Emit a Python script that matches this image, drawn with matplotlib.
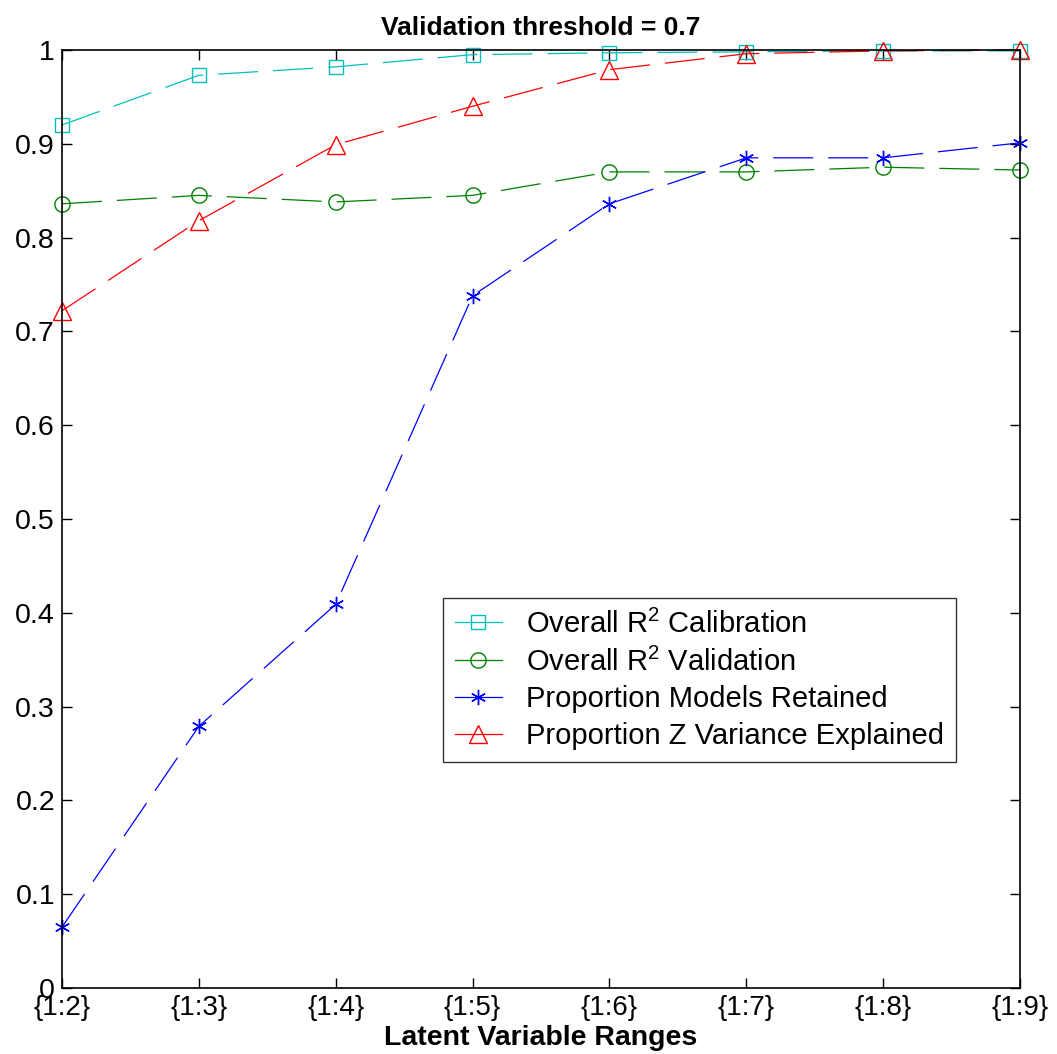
import matplotlib.pyplot as plt
from matplotlib.lines import Line2D

categories = ['{1:2}', '{1:3}', '{1:4}', '{1:5}', '{1:6}', '{1:7}', '{1:8}', '{1:9}']
r2_calibration = [0.920, 0.973, 0.982, 0.995, 0.997, 0.998, 0.999, 0.999]
r2_validation = [0.836, 0.845, 0.838, 0.845, 0.870, 0.870, 0.875, 0.872]
models_retained = [0.065, 0.279, 0.409, 0.738, 0.836, 0.885, 0.885, 0.901]
z_variance = [0.722, 0.818, 0.899, 0.940, 0.979, 0.996, 0.999, 1.000]

labels = ['Overall R$^2$ Calibration', 'Overall R$^2$ Validation',
          'Proportion Models Retained', 'Proportion Z Variance Explained']
colors = ['#00BFBF', '#008000', '#0000FF', '#FF0000']
markers = ['s', 'o', (6, 2, 0), '^']
msizes = [10, 11, 11, 13]

plt.rcParams['font.family'] = ['Liberation Sans', 'DejaVu Sans']
plt.rcParams['mathtext.fontset'] = 'custom'
plt.rcParams['mathtext.rm'] = 'Liberation Sans'

fig = plt.figure(figsize=(10.57, 10.54), dpi=100)
ax = fig.add_axes([0.0587, 0.0626, 0.9063, 0.8900])

x = list(range(len(categories)))
series = [r2_calibration, r2_validation, models_retained, z_variance]
handles = []
for y, c, m, ms, lab in zip(series, colors, markers, msizes, labels):
    ax.plot(x, y, color=c, marker=m, markersize=ms, markerfacecolor='none',
            markeredgecolor=c, markeredgewidth=1, linewidth=0.9,
            dashes=(32, 12), clip_on=False)
    handles.append(Line2D([], [], color=c, marker=m, markersize=ms,
                          markerfacecolor='none', markeredgewidth=1,
                          linewidth=0.9, label=lab))

ax.set_xlim(0, len(categories) - 1)
ax.set_ylim(0, 1)
ax.set_xticks(x)
ax.set_xticklabels(categories, fontsize=20)
ax.set_yticks([i / 10 for i in range(11)])
ax.set_yticklabels(['0', '0.1', '0.2', '0.3', '0.4', '0.5', '0.6', '0.7', '0.8', '0.9', '1'],
                   fontsize=20.5)
ax.tick_params(direction='in', top=True, right=True, length=7, width=1)
ax.tick_params(axis='x', pad=5)
ax.tick_params(axis='y', pad=5)
for s in ax.spines.values():
    s.set_linewidth(1.2)

ax.set_title('Validation threshold = 0.7', fontsize=19, fontweight='bold', pad=11)
ax.set_xlabel('Latent Variable Ranges', fontsize=20.5, fontweight='bold')
ax.xaxis.set_label_coords(0.5, -0.039)

leg = ax.legend(handles=handles, loc='upper left', bbox_to_anchor=(0.398, 0.416),
                fontsize=21, frameon=True, fancybox=False, edgecolor='black',
                borderpad=0.4, labelspacing=0.3, handlelength=1.6,
                handletextpad=0.85, borderaxespad=0)
leg.get_frame().set_linewidth(1)

fig.savefig('out.png', dpi=100, facecolor='white')
